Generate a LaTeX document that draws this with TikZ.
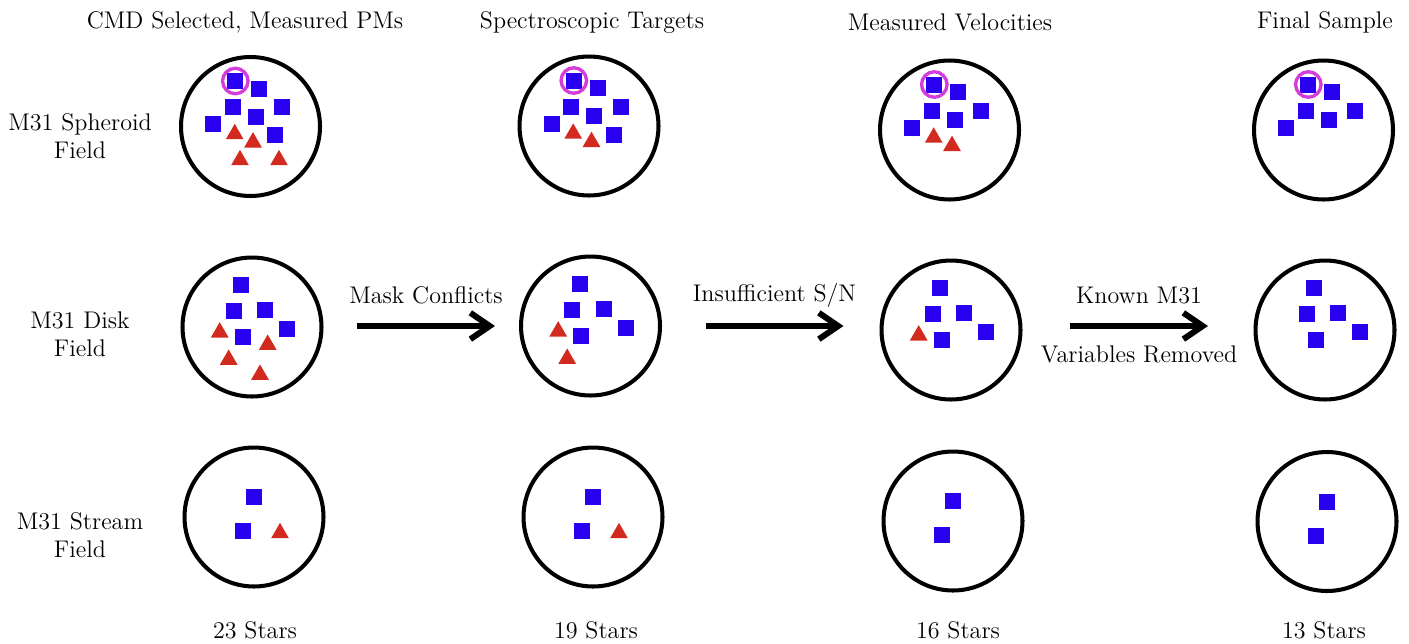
\documentclass[tikz,border=0pt]{standalone}
\usepackage{tikz}
\usetikzlibrary{shapes.geometric,arrows.meta}
\definecolor{starblue}{RGB}{42,0,240}
\definecolor{starred}{RGB}{210,42,30}
\definecolor{ringpink}{RGB}{212,60,220}

\begin{document}
\begin{tikzpicture}[x=0.02cm,y=-0.02cm,
    font=\fontsize{13.7}{15.9}\selectfont,
    field/.style={circle,draw,line width=2.3pt,minimum size=2.78cm,inner sep=0},
    sq/.style={rectangle,fill=starblue,minimum size=0.32cm,inner sep=0},
    tri/.style={regular polygon,regular polygon sides=3,fill=starred,minimum size=0.41cm,inner sep=0},
    ring/.style={circle,draw=ringpink,line width=1.9pt,minimum size=0.51cm,inner sep=0},
    flow/.style={line width=3.4pt,-{Straight Barb[length=11pt,width=15pt]}}]

    \useasboundingbox (0,0) rectangle (1409,643);

    % column titles
    \node (h1) at (245,22) {CMD Selected, Measured PMs};
    \node (h2) at (592,22) {Spectroscopic Targets};
    \node (h3) at (950,22) {Measured Velocities};
    \node (h4) at (1325,22) {Final Sample};

    % row titles
    \node[align=center] (r1) at (80,136) {M31 Spheroid\\Field};
    \node[align=center] (r2) at (80,334) {M31 Disk\\Field};
    \node[align=center] (r3) at (80,535) {M31 Stream\\Field};

    % fields
    \node[field] (f11) at (250.5,126.5) {};
    \node[field] (f12) at (589,126) {};
    \node[field] (f13) at (949.5,130) {};
    \node[field] (f14) at (1323.5,130) {};
    \node[field] (f21) at (252,327) {};
    \node[field] (f22) at (590.5,326) {};
    \node[field] (f23) at (951,330) {};
    \node[field] (f24) at (1325,330) {};
    \node[field] (f31) at (254,517) {};
    \node[field] (f32) at (593,517) {};
    \node[field] (f33) at (953,521) {};
    \node[field] (f34) at (1327,521.5) {};

    % spheroid stars
    \foreach \c/\ns/\nt in {1/7/4,2/7/2,3/6/2,4/6/0} {
      \foreach \dx/\dy [count=\i] in {-15.2/-45.5,8.8/-37.8,-17.8/-19.5,31.5/-19.5,5.2/-9.8,-37.2/-2.2,24.8/8.8}
        {\ifnum\i>\ns\else \node[sq] (s1\c\i) at ([shift={(\dx,\dy)}]f1\c) {}; \fi}
      \foreach \dx/\dy [count=\i] in {-15.8/7.6,2.5/15.9,-10.5/33.6,28.5/33.6}
        {\ifnum\i>\nt\else \node[tri] (t1\c\i) at ([shift={(\dx,\dy)}]f1\c) {}; \fi}
      \node[ring] (o1\c) at (s1\c1) {};
    }

    % disk stars
    \foreach \c/\ns/\nt in {1/5/4,2/5/2,3/5/1,4/5/0} {
      \foreach \dx/\dy [count=\i] in {-11/-42.3,-18.3/-15.7,13/-17,35.3/2.3,-9.3/10.3}
        {\ifnum\i>\ns\else \node[sq] (s2\c\i) at ([shift={(\dx,\dy)}]f2\c) {}; \fi}
      \foreach \dx/\dy [count=\i] in {-32.3/5.4,-23.3/32.7,15.7/17.7,8/47.7}
        {\ifnum\i>\nt\else \node[tri] (t2\c\i) at ([shift={(\dx,\dy)}]f2\c) {}; \fi}
    }

    % stream stars
    \foreach \c/\nt in {1/1,2/1,3/0,4/0} {
      \node[sq] (s3\c1) at ([shift={(0.3,-19.7)}]f3\c) {};
      \node[sq] (s3\c2) at ([shift={(-11.3,14.3)}]f3\c) {};
      \ifnum\nt>0 \node[tri] (t3\c1) at ([shift={(26,16.1)}]f3\c) {}; \fi
    }

    % cuts
    \coordinate (a1) at (426,326);
    \coordinate (a2) at (774.5,326);
    \coordinate (a3) at (1139,326);
    \draw[flow] ([xshift=-1.38cm]a1) -- ([xshift=1.38cm]a1);
    \draw[flow] ([xshift=-1.38cm]a2) -- ([xshift=1.38cm]a2);
    \draw[flow] ([xshift=-1.38cm]a3) -- ([xshift=1.38cm]a3);
    \node (m1) at ([yshift=0.62cm]a1) {Mask Conflicts};
    \node (m2) at ([yshift=0.62cm]a2) {Insufficient S/N};
    \node (m3) at ([yshift=0.6cm]a3) {Known M31};
    \node (m4) at ([yshift=-0.56cm]a3) {Variables Removed};

    % counts
    \node (n1) at (255,630) {23 Stars};
    \node (n2) at (596,630) {19 Stars};
    \node (n3) at (958,630) {16 Stars};
    \node (n4) at (1324,630) {13 Stars};

\end{tikzpicture}
\end{document}
